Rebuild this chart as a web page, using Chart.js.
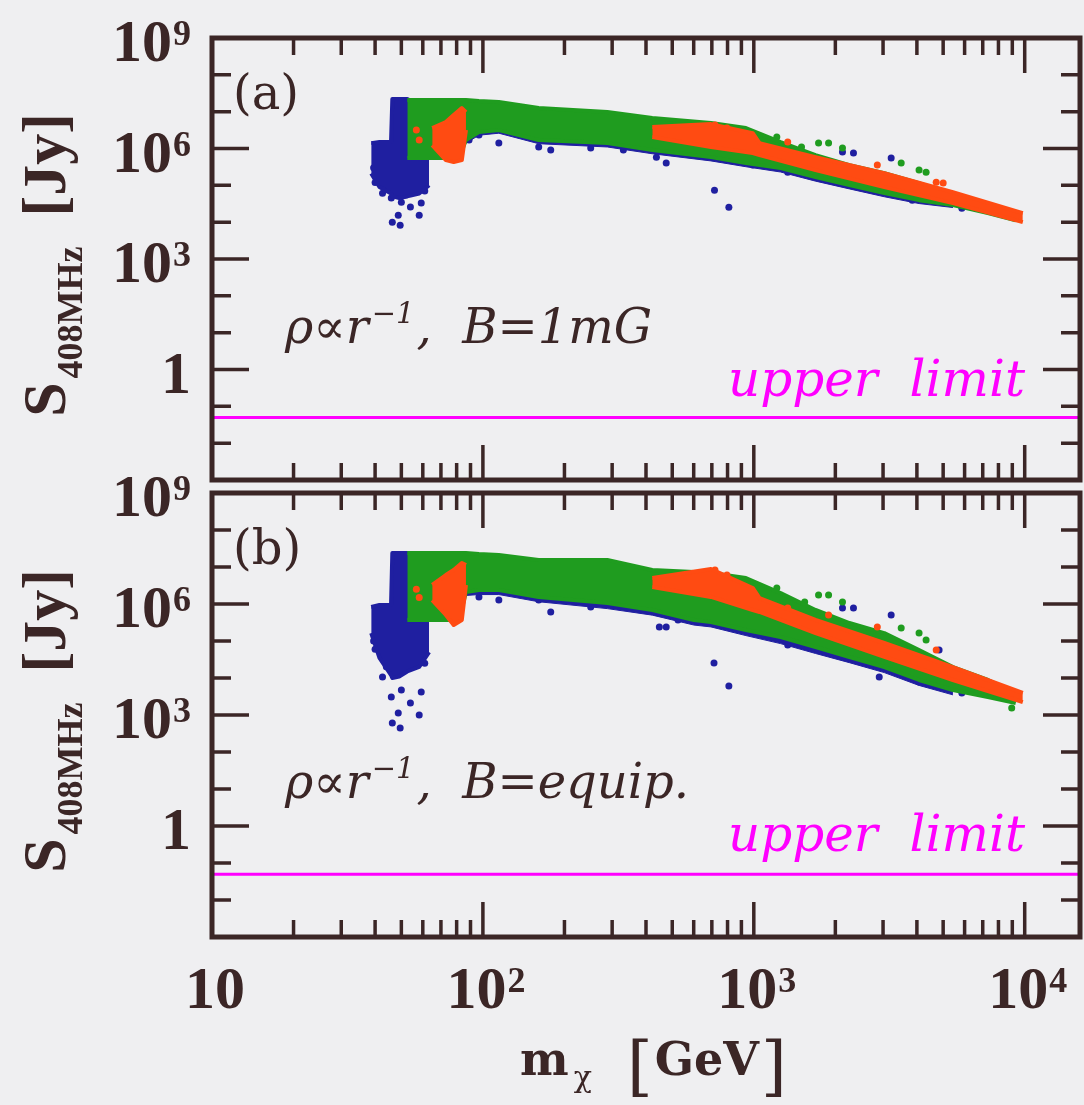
<!DOCTYPE html>
<html>
<head>
<meta charset="utf-8">
<script src="https://cdn.jsdelivr.net/npm/chart.js@4.4.0/dist/chart.umd.min.js"></script>
<style>
  html, body { margin: 0; padding: 0; background: #efeff1; }
  #wrap { position: relative; width: 1084px; height: 1105px; overflow: hidden; }
  canvas { position: absolute; left: 0; }
  #chartA { top: 0; }
  #chartB { top: 460px; }
</style>
</head>
<body>
<div id="wrap">
  <canvas id="chartA" width="1084" height="490"></canvas>
  <canvas id="chartB" width="1084" height="645"></canvas>
</div>
<script>
const INK = "#3b2626";
const BLUE = "#1f1fa0";
const GREEN = "#1f9c1f";
const RED = "#ff4b12";
const MAGENTA = "#ff00ff";

// axes
const xMin = 10, xMax = 16000;
const yMin = 1e-3, yMax = 1e9;
const xTickVals = [10, 100, 1000, 10000];
const xTickBase = ["10", "10", "10", "10"];
const xTickExps = ["", "2", "3", "4"];
const yTickVals = [1e9, 1e6, 1e3, 1];
const yTickBase = ["10", "10", "10", "1"];
const yTickExps = ["9", "6", "3", ""];
const upperLimit = 0.05;

// ---- panel (a): B = 1mG ----
const blobXA = [38.7, 41.5, 45.8, 46.3, 49.1, 52.6, 58.2, 63.3];
const blobHiA = [1.4e6, 1.5e6, 1.5e6, 2.2e7, 2.2e7, 2.2e7, 1.5e7, 1.0e7];
const blobLoA = [2.1e5, 9e4, 6e4, 5e4, 4.5e4, 5e4, 6e4, 1e5];

// blue points showing just under the green cloud
const fringeXA = [86.6, 96.7, 114.5, 160.7, 288, 422, 695, 935, 1256, 1690, 2254, 3032, 4074, 5433];
const fringeHiA = [2.07e7, 1.94e7, 1.82e7, 1.25e7, 9.75e6, 6.7e6, 4.9e6, 3.58e6, 1.49e6, 6.62e5, 3.54e5, 2.15e5, 1.15e5, 5.42e4];
const fringeLoA = [1.4e6, 2.3e6, 2.6e6, 1.35e6, 1.1e6, 7.2e5, 4.6e5, 3.2e5, 2.3e5, 1.3e5, 8.0e4, 4.9e4, 3.2e4, 2.5e4];

const greenXA = [52.6, 58.2, 81.6, 86.6, 96.7, 114.5, 160.7, 288, 422, 695, 935, 1256, 1690, 2254, 3032, 4074, 5433, 7311, 9268];
const greenHiA = [2.07e7, 2.07e7, 2.07e7, 2.07e7, 1.94e7, 1.82e7, 1.25e7, 9.75e6, 6.7e6, 4.9e6, 3.58e6, 1.49e6, 6.62e5, 3.54e5, 2.15e5, 1.15e5, 5.42e4, 2.56e4, 1.55e4];
const greenLoA = [5.48e5, 5.48e5, 5.48e5, 1.69e6, 2.79e6, 3.16e6, 1.69e6, 1.4e6, 9.06e5, 5.83e5, 4.01e5, 2.93e5, 1.67e5, 1.01e5, 6.14e4, 3.96e4, 2.9e4, 1.76e4, 1.13e4];

const redPatchXA = [65.0, 73.0, 78.0, 83.6, 86.6];
const redPatchHiA = [3.58e6, 5.21e6, 8.09e6, 1.25e7, 9.75e6];
const redPatchLoA = [1.24e6, 4.84e5, 4.27e5, 4.84e5, 3.16e6];

const redXA = [422, 695, 991, 1050, 1690, 3032, 5433, 9840];
const redHiA = [3.82e6, 4.6e6, 2.62e6, 1.4e6, 5.83e5, 2.15e5, 6.53e4, 1.76e4];
const redLoA = [2.04e6, 1.09e6, 7.5e5, 6.62e5, 2.59e5, 8.93e4, 3.28e4, 1.0e4];

const blueDotsA = [
  [42.6, 6.1e4], [45.9, 4.5e4], [50.0, 3.5e4], [54.0, 2.6e4], [59.2, 3.3e4], [48.7, 1.55e4], [58.2, 1.55e4], [46.3, 1.0e4], [49.5, 8.3e3],
  [40.0, 1.2e5], [44.0, 8.0e4], [61.0, 7.0e4], [39.5, 3.0e5],
  [88.9, 1.69e6], [96.7, 2.31e6], [114.5, 1.4e6], [160.7, 1.09e6], [178, 9.06e5], [250, 1.03e6], [330, 9.06e5], [437, 5.83e5],
  [475, 4.01e5], [622, 9.06e5], [716, 7.4e4], [809, 2.56e4], [991, 3.54e5], [1334, 2.28e5], [1871, 1.57e5], [2125, 7.98e5],
  [2333, 7.5e5], [2624, 1.01e5], [3214, 5.48e5], [3380, 6.53e4], [3846, 3.96e4], [4180, 3.96e4], [5623, 3.96e4], [5860, 2.4e4], [7244, 2.12e4]
];
const greenDotsA = [[1216, 2.04e6], [1500, 1.09e6], [1734, 1.4e6], [1888, 1.4e6], [2125, 1.03e6], [3500, 4.01e5], [4074, 2.59e5], [4325, 2.28e5]];
const redDotsA = [[56.8, 3.2e6], [58.2, 1.7e6], [719, 4.33e6], [796, 3.58e6], [1334, 1.49e6], [2857, 3.54e5], [4713, 1.22e5], [5001, 1.15e5]];

// ---- panel (b): B = equip. ----
const blobXB = [38.7, 41.5, 45.8, 46.3, 49.1, 52.6, 58.2, 63.3];
const blobHiB = [8.3e5, 9.4e5, 9.4e5, 2.4e7, 2.4e7, 2.4e7, 1.5e7, 1.0e7];
const blobLoB = [1.64e5, 3.5e4, 1.2e4, 1.0e4, 1.1e4, 1.5e4, 2e4, 5e4];

const fringeXB = [86.6, 96.7, 114.5, 160.7, 288, 422, 601, 695, 935, 1256, 1690, 2254, 3032, 4074, 5433];
const fringeHiB = [2.39e7, 2.24e7, 2.11e7, 1.55e7, 1.55e7, 8.3e6, 7.33e6, 6.89e6, 5.05e6, 1.98e6, 6.89e5, 3.06e5, 1.64e5, 5.71e4, 1.98e4];
const fringeLoB = [1.7e6, 1.8e6, 1.8e6, 1.15e6, 7.5e5, 5.0e5, 2.7e5, 2.4e5, 1.4e5, 8.5e4, 4.6e4, 2.6e4, 1.4e4, 6.3e3, 3.5e3];

const greenXB = [52.6, 58.2, 81.6, 86.6, 96.7, 114.5, 160.7, 288, 422, 601, 695, 935, 1256, 1690, 2254, 3032, 4074, 5433, 7311, 9268];
const greenHiB = [2.39e7, 2.39e7, 2.39e7, 2.39e7, 2.24e7, 2.11e7, 1.55e7, 1.55e7, 8.3e6, 7.33e6, 6.89e6, 5.05e6, 1.98e6, 6.89e5, 3.06e5, 1.64e5, 5.71e4, 1.98e4, 8.83e3, 3.94e3];
const greenLoB = [3.7e5, 3.7e5, 3.7e5, 2.11e6, 2.39e6, 2.39e6, 1.55e6, 1.06e6, 6.89e5, 3.7e5, 3.27e5, 1.98e5, 1.28e5, 6.89e4, 3.7e4, 1.98e4, 8.83e3, 4.74e3, 3.06e3, 2.11e3];

const redPatchXB = [65.0, 73.0, 78.0, 83.6, 86.6];
const redPatchHiB = [3.27e6, 6.08e6, 8.3e6, 1.28e7, 1.13e7];
const redPatchLoB = [1.28e6, 5.05e5, 2.71e5, 3.7e5, 3.27e6];

const redXB = [422, 695, 991, 1050, 1690, 3032, 5433, 9840];
const redHiB = [5.05e6, 8.84e6, 2.71e6, 1.45e6, 3.7e5, 8.83e4, 1.98e4, 3.94e3];
const redLoB = [2.88e6, 1.55e6, 6.89e5, 6.08e5, 1.64e5, 3.7e4, 8.83e3, 2.24e3];

const blueDotsB = [
  [42.6, 1.06e4], [45.9, 3.06e3], [50.0, 4.74e3], [54.0, 2.11e3], [59.2, 4.19e3], [48.7, 1.13e3], [58.2, 1.0e3], [46.3, 608], [49.5, 446],
  [40.0, 6.0e4], [44.0, 2.0e4], [61.0, 2.5e4], [39.5, 1.0e5],
  [96.7, 1.55e6], [114.5, 1.28e6], [160.7, 1.28e6], [178, 6.08e5], [250, 8.3e5], [330, 9.4e5], [437, 6.08e5], [448, 2.39e5], [475, 2.39e5],
  [525, 3.7e5], [713, 2.54e4], [738, 3.27e5], [809, 6.08e3], [991, 1.98e5], [1334, 7.8e4], [1871, 5.05e4], [2125, 7.8e5], [2333, 7.8e5],
  [2624, 3.06e4], [2904, 1.06e4], [3214, 5.05e5], [3380, 1.64e4], [3412, 1.45e4], [4074, 7.8e3], [4830, 5.71e4], [5623, 7.3e3], [5860, 3.94e3], [7244, 4.74e3]
];
const greenDotsB = [[1216, 2.71e6], [1541, 1.13e6], [1734, 1.75e6], [1888, 1.75e6], [2125, 1.13e6], [3500, 2.24e5], [4074, 1.64e5], [4325, 1.06e5], [8954, 1.55e3]];
const redDotsB = [[56.8, 2.5e6], [58.2, 1.5e6], [719, 8.3e6], [796, 6.08e6], [1334, 7.8e5], [1888, 5.05e5], [2857, 2.39e5], [4713, 5.71e4]];

// ---------- helpers ----------
function band(xs, hi, lo, color, order, lineW) {
  const common = { borderColor: color, borderWidth: lineW, borderJoinStyle: "round", pointRadius: 0, tension: 0, order: order };
  return [
    Object.assign({ data: xs.map((x, i) => ({ x: x, y: hi[i] })), fill: false }, common),
    Object.assign({ data: xs.map((x, i) => ({ x: x, y: lo[i] })), fill: "-1", backgroundColor: color }, common)
  ];
}

function dots(pts, color, order) {
  return {
    data: pts.map((p) => ({ x: p[0], y: p[1] })),
    showLine: false,
    pointRadius: 3.5,
    pointBackgroundColor: color,
    pointBorderWidth: 0,
    order: order
  };
}

function drawPow(ctx, base, exp, x, yBase, center) {
  ctx.font = 'bold 60px "Liberation Serif", serif';
  const wb = ctx.measureText(base).width;
  ctx.font = 'bold 36px "Liberation Serif", serif';
  const we = exp ? ctx.measureText(exp).width + 1 : 0;
  const left = center ? x - (wb + we) / 2 : x - wb - we;
  ctx.textAlign = "left";
  ctx.textBaseline = "alphabetic";
  ctx.font = 'bold 60px "Liberation Serif", serif';
  ctx.fillText(base, left, yBase);
  if (exp) {
    ctx.font = 'bold 36px "Liberation Serif", serif';
    ctx.fillText(exp, left + wb + 1, yBase - 16);
  }
}

function drawYTitle(ctx, a) {
  ctx.save();
  const big = 'bold 62px "Liberation Serif", serif';
  const small = 'bold 36px "Liberation Serif", serif';
  ctx.font = big;
  const wS = ctx.measureText("S").width;
  const wJ = ctx.measureText("[Jy]").width;
  ctx.font = small;
  const wSub = ctx.measureText("408MHz").width;
  const total = wS + 4 + wSub + 30 + wJ;
  ctx.translate(65, (a.top + a.bottom) / 2 + 6);
  ctx.rotate(-Math.PI / 2);
  let x = -total / 2;
  ctx.textAlign = "left";
  ctx.font = big;
  ctx.fillText("S", x, 0);
  x += wS + 4;
  ctx.font = small;
  ctx.fillText("408MHz", x, 17);
  x += wSub + 30;
  ctx.font = big;
  ctx.fillText("[Jy]", x, 0);
  ctx.restore();
}

function drawXTitle(ctx, a) {
  const base = a.bottom + 138;
  ctx.textAlign = "left";
  let x = 520;
  ctx.font = 'bold 46px "DejaVu Serif", serif';
  ctx.fillText("m", x, base);
  x += ctx.measureText("m").width + 5;
  ctx.font = '30px "DejaVu Serif", serif';
  ctx.fillText("\u03c7", x, base + 12);
  x = 627;
  ctx.font = '66px "DejaVu Serif", serif';
  ctx.fillText("[", x, base + 13);
  x += ctx.measureText("[").width + 2;
  ctx.font = 'bold 46px "DejaVu Serif", serif';
  ctx.fillText("GeV", x, base);
  x += ctx.measureText("GeV").width + 2;
  ctx.font = '66px "DejaVu Serif", serif';
  ctx.fillText("]", x, base + 13);
}

function drawNote(ctx, a, tag, bText) {
  ctx.textAlign = "left";
  ctx.fillStyle = INK;
  ctx.font = '48px "DejaVu Serif", serif';
  ctx.fillText(tag, 233, a.top + 71);

  const it = 'italic 48px "DejaVu Serif", serif';
  const sup = 'italic 29px "DejaVu Serif", serif';
  const base = a.top + 305;
  let x = 285;
  ctx.font = it;
  ctx.fillText("\u03c1\u221dr", x, base);
  x += ctx.measureText("\u03c1\u221dr").width + 3;
  ctx.font = sup;
  ctx.fillText("\u22121", x, base - 20);
  x += ctx.measureText("\u22121").width + 2;
  ctx.font = it;
  ctx.fillText(",  B=" + bText, x, base);

  ctx.fillStyle = MAGENTA;
  ctx.font = 'italic 50px "DejaVu Serif", serif';
  ctx.fillText("upper  limit", 728, a.top + 358);
  ctx.fillStyle = INK;
}

function framePlugin(cfg) {
  return {
    id: "frame",
    afterDraw(chart) {
      const ctx = chart.ctx;
      const a = chart.chartArea;
      const xs = chart.scales.x;
      const ys = chart.scales.y;
      ctx.save();
      ctx.strokeStyle = INK;
      ctx.fillStyle = INK;
      ctx.lineWidth = 3.5;
      ctx.beginPath();
      for (let d = 1; d <= 4; d++) {
        for (let m = 1; m <= 9; m++) {
          const v = m * Math.pow(10, d);
          if (v <= xMin || v >= xMax) continue;
          const px = xs.getPixelForValue(v);
          const len = m === 1 ? 35 : 17;
          ctx.moveTo(px, a.bottom); ctx.lineTo(px, a.bottom - len);
          ctx.moveTo(px, a.top); ctx.lineTo(px, a.top + len);
        }
      }
      for (let e = -2; e <= 8; e++) {
        const py = ys.getPixelForValue(Math.pow(10, e));
        const len = e % 3 === 0 ? 37 : 19;
        ctx.moveTo(a.left, py); ctx.lineTo(a.left + len, py);
        ctx.moveTo(a.right, py); ctx.lineTo(a.right - len, py);
      }
      ctx.stroke();
      ctx.lineWidth = 5;
      ctx.strokeRect(a.left, a.top, a.right - a.left, a.bottom - a.top);

      yTickVals.forEach((v, i) => {
        drawPow(ctx, yTickBase[i], yTickExps[i], 191, ys.getPixelForValue(v) + 23, false);
      });
      if (cfg.showX) {
        xTickVals.forEach((v, i) => {
          drawPow(ctx, xTickBase[i], xTickExps[i], xs.getPixelForValue(v) + 3, a.bottom + 71, true);
        });
        drawXTitle(ctx, a);
      }
      drawYTitle(ctx, a);
      drawNote(ctx, a, cfg.tag, cfg.bText);
      ctx.restore();
    }
  };
}

function makePanel(id, cfg, d) {
  const datasets = [
    {
      data: [{ x: xMin, y: upperLimit }, { x: xMax, y: upperLimit }],
      borderColor: MAGENTA, borderWidth: 3, pointRadius: 0, fill: false, order: 0
    },
    ...band(d.redPatchX, d.redPatchHi, d.redPatchLo, RED, 1, 4),
    ...band(d.redX, d.redHi, d.redLo, RED, 1, 4),
    dots(d.redDots, RED, 1),
    ...band(d.greenX, d.greenHi, d.greenLo, GREEN, 2, 4),
    dots(d.greenDots, GREEN, 2),
    ...band(d.blobX, d.blobHi, d.blobLo, BLUE, 3, 4),
    ...band(d.fringeX, d.fringeHi, d.fringeLo, BLUE, 3, 1),
    dots(d.blueDots, BLUE, 3)
  ];
  return new Chart(document.getElementById(id), {
    type: "line",
    data: { datasets: datasets },
    options: {
      responsive: false,
      animation: false,
      layout: { padding: { top: cfg.padTop, right: 1, left: 0, bottom: 0 } },
      plugins: { legend: { display: false }, tooltip: { enabled: false } },
      scales: {
        x: {
          type: "logarithmic", min: xMin, max: xMax,
          ticks: { display: false }, grid: { display: false }, border: { display: false },
          afterFit: (s) => { s.height = cfg.xAxisH; }
        },
        y: {
          type: "logarithmic", min: yMin, max: yMax,
          ticks: { display: false }, grid: { display: false }, border: { display: false },
          afterFit: (s) => { s.width = 212; }
        }
      }
    },
    plugins: [framePlugin(cfg)]
  });
}

makePanel("chartA", { padTop: 38, xAxisH: 10, showX: false, tag: "(a)", bText: "1mG" }, {
  blobX: blobXA, blobHi: blobHiA, blobLo: blobLoA,
  fringeX: fringeXA, fringeHi: fringeHiA, fringeLo: fringeLoA,
  greenX: greenXA, greenHi: greenHiA, greenLo: greenLoA,
  redPatchX: redPatchXA, redPatchHi: redPatchHiA, redPatchLo: redPatchLoA,
  redX: redXA, redHi: redHiA, redLo: redLoA,
  blueDots: blueDotsA, greenDots: greenDotsA, redDots: redDotsA
});

makePanel("chartB", { padTop: 33, xAxisH: 168, showX: true, tag: "(b)", bText: "equip." }, {
  blobX: blobXB, blobHi: blobHiB, blobLo: blobLoB,
  fringeX: fringeXB, fringeHi: fringeHiB, fringeLo: fringeLoB,
  greenX: greenXB, greenHi: greenHiB, greenLo: greenLoB,
  redPatchX: redPatchXB, redPatchHi: redPatchHiB, redPatchLo: redPatchLoB,
  redX: redXB, redHi: redHiB, redLo: redLoB,
  blueDots: blueDotsB, greenDots: greenDotsB, redDots: redDotsB
});
</script>
</body>
</html>
